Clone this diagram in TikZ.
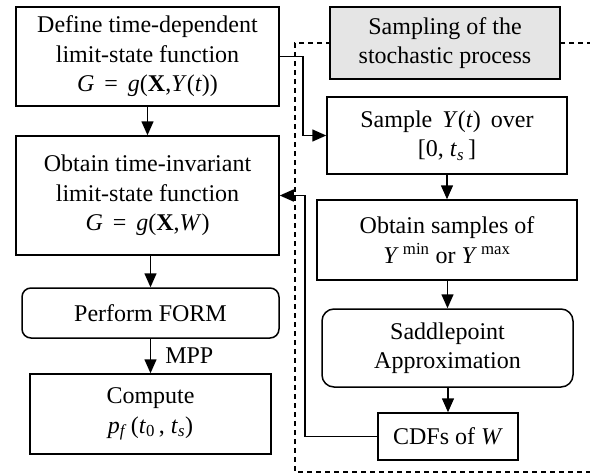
\documentclass[tikz,border=0pt]{standalone}
\usepackage{fontspec}
\setmainfont{Liberation Serif}
\usetikzlibrary{arrows.meta,calc}
\begin{document}
\begin{tikzpicture}[x=1pt,y=-1pt,
  box/.style={draw,line width=1.5pt,align=center,inner sep=2pt,font=\fontsize{24}{29.5}\selectfont},
  rbox/.style={box,rounded corners=9pt},
  arr/.style={line width=1.5pt,-{Triangle[length=14pt,width=12pt]}},
  dsh/.style={line width=1.4pt,dash pattern=on 5pt off 4pt}]
\useasboundingbox (0,0) rectangle (590,474);
% dashed group frame
\draw[dsh] (592,43) -- (295,43) -- (295,472) -- (592,472);
% left column
\node[box,minimum width=263pt,minimum height=99pt] (b1) at (147.5,56.5)
  {Define time-dependent\\limit-state function\\\textit{G}\, = \,\textit{g}(\textbf{X},\textit{Y}(\textit{t}))};
\node[box,minimum width=263pt,minimum height=119pt] (b2) at (147.5,195.5)
  {Obtain time-invariant\\limit-state function\\\textit{G}\, = \,\textit{g}(\textbf{X},\textit{W})};
\node[rbox,minimum width=257pt,minimum height=50pt] (form) at (150.5,313) {Perform FORM};
\node[box,minimum width=241pt,minimum height=80pt] (comp) at (150.5,414)
  {Compute\\\textit{p}\textsubscript{\textit{f}}\,(\textit{t}\textsubscript{0}\,, \textit{t}\textsubscript{\textit{s}})};
% right column
\node[box,fill=black!10,minimum width=230pt,minimum height=72pt] (samp0) at (445,43)
  {Sampling of the\\stochastic process};
\node[box,minimum width=240pt,minimum height=77pt] (samp) at (447,135.5)
  {Sample \,\textit{Y}(\textit{t})\, over\\{[}0, \textit{t}\textsubscript{\textit{s}}\,{]}};
\node[box,minimum width=260pt,minimum height=80pt] (obt) at (447,240)
  {Obtain samples of\\\textit{Y}\,\textsuperscript{min} or \textit{Y}\,\textsuperscript{max}};
\node[rbox,rounded corners=12pt,minimum width=251pt,minimum height=78pt] (sad) at (447.5,348)
  {Saddlepoint\\Approximation};
\node[box,minimum width=140pt,minimum height=47pt] (cdf) at (448,436.5) {CDFs of \textit{W}};
% connectors
\draw[arr] (b1) -- (b2);
\draw[arr] (b2.south -| form.north) -- (form.north);
\draw[arr] (form) -- node[right,font=\fontsize{24}{28}\selectfont,inner sep=0pt,xshift=14pt]{MPP} (comp);
\draw[arr] (samp) -- (obt);
\draw[arr] (obt.south -| sad.north) -- (sad.north);
\draw[arr] (sad.south -| cdf.north) -- (cdf.north);
\coordinate (kr) at (303,0);
\coordinate (kl) at (305,0);
\draw[arr] (b1.east) -- (b1.east -| kr) |- (samp.west);
\draw[arr] (cdf.west) -- (cdf.west -| kl) |- (b2.east);
\end{tikzpicture}
\end{document}
